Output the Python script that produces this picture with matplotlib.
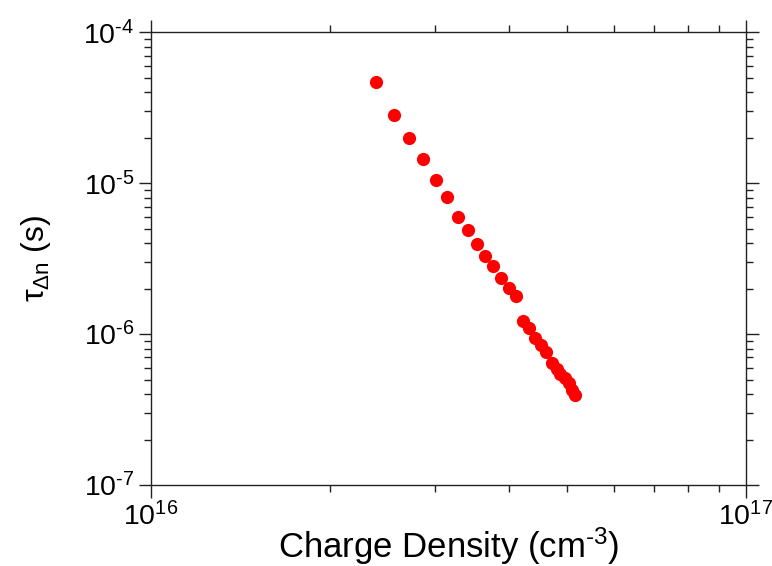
import matplotlib
matplotlib.use("Agg")
import matplotlib.pyplot as plt
from matplotlib.ticker import LogLocator, FixedLocator, NullFormatter

plt.rcParams['font.family'] = ['Liberation Sans', 'DejaVu Sans']
plt.rcParams['mathtext.fontset'] = 'custom'
plt.rcParams['mathtext.rm'] = 'Liberation Sans'
plt.rcParams['mathtext.it'] = 'Liberation Sans'

# charge density (cm^-3) and lifetime tau_dn (s)
density = [2.39e16, 2.56e16, 2.71e16, 2.87e16, 3.01e16, 3.15e16, 3.28e16,
           3.41e16, 3.53e16, 3.65e16, 3.76e16, 3.88e16, 4.00e16, 4.11e16,
           4.22e16, 4.32e16, 4.42e16, 4.52e16, 4.62e16, 4.72e16, 4.81e16,
           4.88e16, 4.96e16, 5.05e16, 5.11e16, 5.17e16]
tau = [4.66e-5, 2.83e-5, 2.00e-5, 1.45e-5, 1.055e-5, 8.07e-6, 5.94e-6,
       4.92e-6, 3.97e-6, 3.29e-6, 2.83e-6, 2.35e-6, 2.01e-6, 1.79e-6,
       1.23e-6, 1.10e-6, 9.47e-7, 8.47e-7, 7.57e-7, 6.46e-7, 5.87e-7,
       5.42e-7, 5.09e-7, 4.76e-7, 4.26e-7, 3.93e-7]

xticks = [1e16, 1e17]
xticklabels = [r'$10^{16}$', r'$10^{17}$']
yticks = [1e-7, 1e-6, 1e-5, 1e-4]
yticklabels = [r'$10^{\text{-7}}$', r'$10^{\text{-6}}$', r'$10^{\text{-5}}$', r'$10^{\text{-4}}$']

fig = plt.figure(figsize=(7.72, 5.66), dpi=100)
ax = fig.add_axes([0.1956, 0.1431, 0.7704, 0.7998])

ax.plot(density, tau, 'o', color='#ff0000', markersize=9.5, markeredgewidth=0)

ax.set_xscale('log')
ax.set_yscale('log')
ax.set_xlim(1e16, 1e17)
ax.set_ylim(1e-7, 1e-4)

ax.xaxis.set_major_locator(FixedLocator(xticks))
ax.set_xticklabels(xticklabels, fontsize=20.5)
ax.yaxis.set_major_locator(FixedLocator(yticks))
ax.set_yticklabels(yticklabels, fontsize=20.5)
ax.xaxis.set_minor_locator(LogLocator(base=10, subs=range(2, 10)))
ax.yaxis.set_minor_locator(LogLocator(base=10, subs=range(2, 10)))
ax.xaxis.set_minor_formatter(NullFormatter())
ax.yaxis.set_minor_formatter(NullFormatter())

ax.tick_params(which='both', direction='out', top=True, right=True,
               color='#222222', width=1)
ax.tick_params(which='major', length=9)
ax.tick_params(which='minor', length=5)
ax.tick_params(axis='x', which='major', pad=3)
ax.tick_params(axis='y', which='major', pad=3)

for sp in ax.spines.values():
    sp.set_linewidth(1)
    sp.set_color('#222222')

ax.set_xlabel(r'Charge Density (cm$^{\text{-3}}$)', fontsize=25, labelpad=-4)
ax.set_ylabel(r'$\tau_{\Delta n}$ (s)', fontsize=23, labelpad=22)

fig.savefig('out.png', dpi=100)
